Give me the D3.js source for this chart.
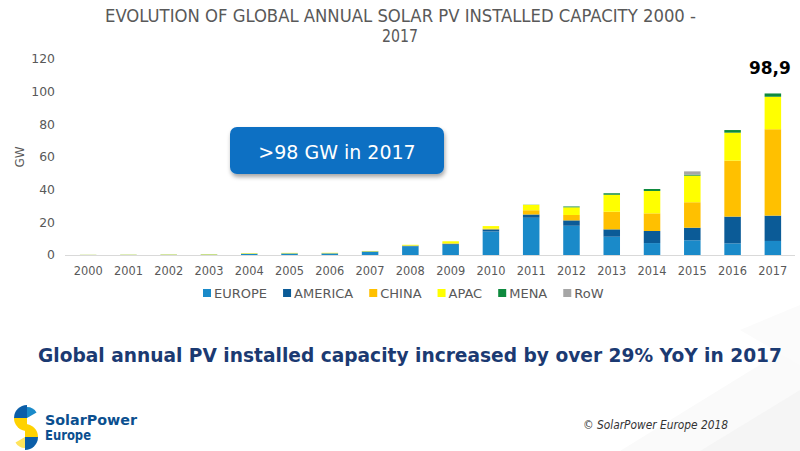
<!DOCTYPE html>
<html>
<head>
<meta charset="utf-8">
<script src="https://cdn.jsdelivr.net/npm/d3@7"></script>
<style>
  html, body { margin: 0; padding: 0; background: #fff; }
  svg { display: block; }
</style>
</head>
<body>
<svg id="chart" width="800" height="451"></svg>
<script>
// ---------- DATA ----------
const years = ["2000","2001","2002","2003","2004","2005","2006","2007","2008","2009","2010","2011","2012","2013","2014","2015","2016","2017"];
const europe  = [0.05,0.1,0.13,0.2,0.7,0.9,0.9,2.0,5.3,6.3,14.4,22.8,17.9,11.2,7.3,9.0,7.1,8.6];
const america = [0.02,0.02,0.05,0.07,0.1,0.1,0.15,0.2,0.4,0.6,1.3,2.0,3.3,4.5,7.4,7.7,16.4,15.5];
const china   = [0,0,0,0,0,0,0,0.02,0.05,0.2,0.5,2.6,3.3,10.8,10.8,15.6,34.3,52.9];
const apac    = [0.1,0.15,0.2,0.25,0.3,0.3,0.3,0.25,0.5,1.3,1.5,3.3,4.7,10.4,13.7,16.3,17.1,19.9];
const mena    = [0,0,0,0,0,0,0,0,0,0,0,0.1,0.5,0.9,1.2,0.6,1.6,2.0];
const row     = [0,0,0,0,0,0,0,0,0,0,0,0,0,0,0,2.0,0,0];
const seriesNames = ["EUROPE","AMERICA","CHINA","APAC","MENA","RoW"];
const seriesColors = ["#1A8AC9","#0B5B97","#FFC000","#FFFF00","#0E8A3E","#A6A6A6"];
const yTicks = [0,20,40,60,80,100,120];
const totalLabel = "98,9";
const titleLines = ["EVOLUTION OF GLOBAL ANNUAL SOLAR PV INSTALLED CAPACITY 2000 -","2017"];
const calloutText = ">98 GW in 2017";
const headline = "Global annual PV installed capacity increased by over 29% YoY in 2017";
const copyright = "\u00A9 SolarPower Europe 2018";

// ---------- SETUP ----------
const svg = d3.select("#chart");
const seriesArrays = [europe, america, china, apac, mena, row];
const table = years.map((yr, i) => {
  const o = { year: yr };
  seriesNames.forEach((k, j) => o[k] = seriesArrays[j][i]);
  return o;
});
const color = d3.scaleOrdinal().domain(seriesNames).range(seriesColors);

// faint background shapes bottom-right
const bg = svg.append("g");
bg.append("polygon").attr("points","620,451 800,340 800,451").attr("fill","#fafafa");
bg.append("polygon").attr("points","700,451 800,390 800,451").attr("fill","#f5f5f5");
bg.append("polygon").attr("points","740,330 800,305 800,365").attr("fill","#fbfbfb");

const x = d3.scaleBand().domain(years).range([68, 793]).paddingInner(0.59).paddingOuter(0.295);
const y = d3.scaleLinear().domain([0, 120]).range([255, 59]);

// title
svg.append("text").attr("x", 400.5).attr("y", 22).attr("text-anchor","middle")
  .attr("font-family","'Liberation Sans Narrow','DejaVu Sans Condensed','Roboto',sans-serif")
  .attr("font-size", 17.5).attr("fill","#595959")
  .attr("textLength", 591).attr("lengthAdjust","spacingAndGlyphs")
  .text(titleLines[0]);
svg.append("text").attr("x", 400).attr("y", 42).attr("text-anchor","middle")
  .attr("font-family","'Liberation Sans Narrow','DejaVu Sans Condensed','Roboto',sans-serif")
  .attr("font-size", 17.5).attr("fill","#595959")
  .attr("textLength", 36).attr("lengthAdjust","spacingAndGlyphs")
  .text(titleLines[1]);

// y axis
const yAxis = svg.append("g").attr("transform","translate(66,0)")
  .call(d3.axisLeft(y).tickValues(yTicks).tickSize(0).tickPadding(11));
yAxis.select(".domain").remove();
yAxis.selectAll("text").attr("font-family","'DejaVu Sans',Verdana,sans-serif")
  .attr("font-size", 12.4).attr("fill","#595959");

// GW label
svg.append("text").attr("transform","translate(24,157) rotate(-90)")
  .attr("text-anchor","middle").attr("font-family","'DejaVu Sans',Verdana,sans-serif")
  .attr("font-size", 12).attr("fill","#595959").text("GW");

// x axis
const xAxis = svg.append("g").attr("transform","translate(0,255)")
  .call(d3.axisBottom(x).tickSize(0).tickPadding(12));
xAxis.select(".domain").attr("stroke","#D9D9D9").attr("stroke-width",1)
  .attr("d","M65,0.5H795");
xAxis.selectAll("text").attr("font-family","'DejaVu Sans',Verdana,sans-serif")
  .attr("font-size", 11.4).attr("fill","#595959");

// bars
const stacked = d3.stack().keys(seriesNames)(table);
svg.append("g").selectAll("g").data(stacked).join("g")
  .attr("fill", d => color(d.key))
  .selectAll("rect").data(d => d).join("rect")
  .attr("x", d => x(d.data.year))
  .attr("width", x.bandwidth())
  .attr("y", d => y(d[1]))
  .attr("height", d => Math.max(0, y(d[0]) - y(d[1])));

// total label on last bar
const lastYear = years[years.length - 1];
const lastTotal = d3.sum(seriesArrays, a => a[a.length - 1]);
svg.append("text").attr("x", x(lastYear) + x.bandwidth()/2 - 3).attr("y", y(lastTotal) - 19)
  .attr("text-anchor","middle").attr("font-family","'DejaVu Sans',Verdana,sans-serif")
  .attr("font-weight","bold").attr("font-size", 17).attr("fill","#000")
  .text(totalLabel);

// callout
const defs = svg.append("defs");
const f = defs.append("filter").attr("id","sh").attr("x","-10%").attr("y","-20%").attr("width","130%").attr("height","160%");
f.append("feDropShadow").attr("dx",1).attr("dy",3).attr("stdDeviation",2).attr("flood-color","#000").attr("flood-opacity",0.35);
svg.append("rect").attr("x",230).attr("y",127).attr("width",214).attr("height",47)
  .attr("rx",7).attr("fill","#0E6FC3").attr("filter","url(#sh)");
svg.append("text").attr("x",337).attr("y",159).attr("text-anchor","middle")
  .attr("font-family","'DejaVu Sans',Verdana,sans-serif").attr("font-size",19)
  .attr("fill","#fff").text(calloutText);

// legend
const lg = svg.append("g");
let lx = 203;
seriesNames.forEach((name, i) => {
  lg.append("rect").attr("x", lx).attr("y", 289).attr("width", 8).attr("height", 8).attr("fill", seriesColors[i]);
  const t = lg.append("text").attr("x", lx + 11).attr("y", 298)
    .attr("font-family","'DejaVu Sans',Verdana,sans-serif").attr("font-size", 13)
    .attr("fill","#595959").text(name);
  lx += 11 + t.node().getComputedTextLength() + 16;
});

// headline
svg.append("text").attr("x", 38).attr("y", 362)
  .attr("font-family","'DejaVu Sans',Verdana,sans-serif").attr("font-weight","bold")
  .attr("font-size", 19).attr("fill","#1B3A72")
  .attr("textLength", 744).attr("lengthAdjust","spacingAndGlyphs")
  .text(headline);

// copyright
svg.append("text").attr("x", 583).attr("y", 429)
  .attr("font-family","'Liberation Sans Narrow','DejaVu Sans Condensed',sans-serif")
  .attr("font-style","italic").attr("font-size", 12).attr("fill","#333")
  .attr("textLength", 145).attr("lengthAdjust","spacingAndGlyphs")
  .text(copyright);

// logo
const logo = svg.append("g");
const arc = d3.arc();
logo.append("path").attr("transform","translate(27,418)")
  .attr("d", arc({innerRadius:0, outerRadius:13, startAngle:-Math.PI, endAngle:-Math.PI/2}))
  .attr("fill","#FFD200");
logo.append("path").attr("transform","translate(27,418)")
  .attr("d", arc({innerRadius:0, outerRadius:13, startAngle:-Math.PI/2, endAngle:0}))
  .attr("fill","#0B5EA8");
logo.append("path").attr("transform","translate(27,418)")
  .attr("d", arc({innerRadius:0, outerRadius:11, startAngle:0, endAngle:Math.PI/3}))
  .attr("fill","#1A8AC9");
logo.append("path").attr("transform","translate(25,437)")
  .attr("d", arc({innerRadius:0, outerRadius:13, startAngle:0, endAngle:Math.PI/2}))
  .attr("fill","#FFD200");
logo.append("path").attr("transform","translate(25,437)")
  .attr("d", arc({innerRadius:0, outerRadius:13, startAngle:Math.PI/2, endAngle:Math.PI}))
  .attr("fill","#0B5EA8");
logo.append("path").attr("transform","translate(25,437)")
  .attr("d", arc({innerRadius:0, outerRadius:11, startAngle:Math.PI, endAngle:Math.PI*4/3}))
  .attr("fill","#FFE45C");
logo.append("text").attr("x",45).attr("y",425)
  .attr("font-family","'DejaVu Sans',Verdana,sans-serif").attr("font-weight","bold")
  .attr("font-size",14).attr("fill","#0B4F8F")
  .attr("textLength",92).attr("lengthAdjust","spacingAndGlyphs").text("SolarPower");
logo.append("text").attr("x",45).attr("y",440)
  .attr("font-family","'DejaVu Sans',Verdana,sans-serif").attr("font-weight","bold")
  .attr("font-size",14).attr("fill","#0B4F8F")
  .attr("textLength",46).attr("lengthAdjust","spacingAndGlyphs").text("Europe");
</script>
</body>
</html>
